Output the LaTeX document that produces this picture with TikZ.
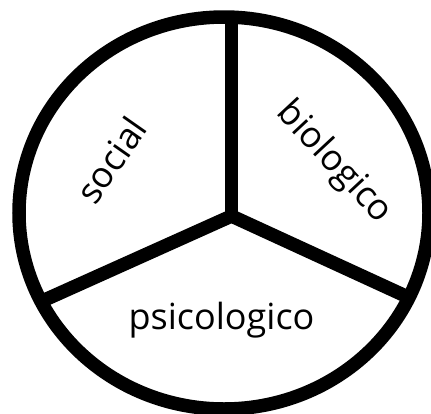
\documentclass[tikz,border=0pt]{standalone}
\usepackage{fontspec}
\setmainfont{Open Sans}
\begin{document}
\begin{tikzpicture}[x=1pt,y=-1pt,
  thick line/.style={line width=13.5pt, line join=miter},
  lbl/.style={font=\fontsize{36}{36}\selectfont, inner sep=0pt}]
\useasboundingbox (0,0) rectangle (431,413);
\coordinate (c) at (224,213);
\coordinate (hub) at (231.5,216);
\coordinate (top) at (231.5,14);
\coordinate (left) at (40,302);
\coordinate (right) at (410,298);
\draw[thick line] (c) ellipse [x radius=205, y radius=196];
\draw[thick line] (top) -- (hub);
\draw[thick line] (left) -- (hub) -- (right);
\node[lbl, rotate=55] (social) at (111,160) {social};
\node[lbl, rotate=-47] (bio) at (334,163) {biologico};
\node[lbl, anchor=base] (psi) at (221.5,329) {psicologico};
\end{tikzpicture}
\end{document}
